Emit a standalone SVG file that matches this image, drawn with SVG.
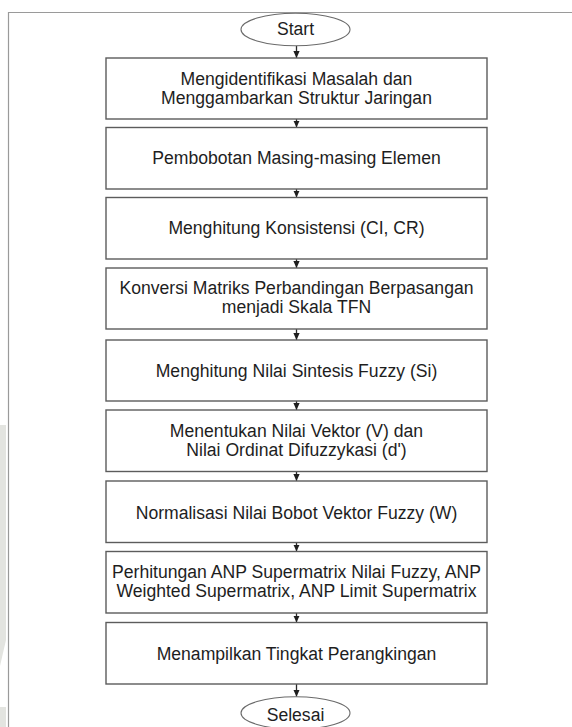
<svg xmlns="http://www.w3.org/2000/svg" width="572" height="727" viewBox="0 0 572 727">
<style>
.box{fill:#ffffff;stroke:#5c5c5c;stroke-width:1.4}
.term{fill:#ffffff;stroke:#6a6a6a;stroke-width:1.1}
.t{font-family:"Liberation Sans",Arial,sans-serif;font-size:17.6px;fill:#1e1e1e;text-anchor:middle}
.conn{stroke:#2a2a2a;stroke-width:1.3;fill:none}
.frame{stroke:#9a9a9a;stroke-width:1.2;fill:none}
.wm{fill:#e3e4e0}
</style>
<defs>
<marker id="ah" viewBox="0 0 10 10" refX="10" refY="5" markerWidth="7" markerHeight="7" markerUnits="userSpaceOnUse" orient="auto">
<path d="M0,0.5 L10,5 L0,9.5 z" fill="#1e1e1e"/>
</marker>
</defs>
<rect x="0" y="0" width="572" height="727" fill="#ffffff"/>
<g id="watermark">
<polygon class="wm" points="0,425 6,425 6,640 0,666"/>
<rect class="wm" x="0" y="707" width="6" height="20"/>
</g>
<path class="frame" d="M8.5,727 L8.5,12.5 L572,12.5"/>
<g id="connectors">
<line class="conn" x1="296.5" y1="45.7" x2="296.5" y2="58" marker-end="url(#ah)"/>
<line class="conn" x1="296.5" y1="119" x2="296.5" y2="127.5" marker-end="url(#ah)"/>
<line class="conn" x1="296.5" y1="189" x2="296.5" y2="197.5" marker-end="url(#ah)"/>
<line class="conn" x1="296.5" y1="259" x2="296.5" y2="268" marker-end="url(#ah)"/>
<line class="conn" x1="296.5" y1="329" x2="296.5" y2="340" marker-end="url(#ah)"/>
<line class="conn" x1="296.5" y1="401" x2="296.5" y2="410" marker-end="url(#ah)"/>
<line class="conn" x1="296.5" y1="471.5" x2="296.5" y2="481" marker-end="url(#ah)"/>
<line class="conn" x1="296.5" y1="542.5" x2="296.5" y2="551.5" marker-end="url(#ah)"/>
<line class="conn" x1="296.5" y1="613" x2="296.5" y2="622.5" marker-end="url(#ah)"/>
<line class="conn" x1="296.5" y1="684" x2="296.5" y2="696.7" marker-end="url(#ah)"/>
</g>
<g id="start">
<ellipse class="term" cx="295.5" cy="29.5" rx="54.5" ry="16.2"/>
<text class="t" x="295.5" y="35.3">Start</text>
</g>
<g id="n1">
<rect class="box" x="106" y="58" width="381" height="61"/>
<text class="t" x="296.5" y="84.5">Mengidentifikasi Masalah dan</text>
<text class="t" x="296.5" y="103.5">Menggambarkan Struktur Jaringan</text>
</g>
<g id="n2">
<rect class="box" x="106" y="127.5" width="381" height="61.5"/>
<text class="t" x="296.5" y="164.3">Pembobotan Masing-masing Elemen</text>
</g>
<g id="n3">
<rect class="box" x="106" y="197.5" width="381" height="61.5"/>
<text class="t" x="296.5" y="234.3">Menghitung Konsistensi (CI, CR)</text>
</g>
<g id="n4">
<rect class="box" x="106" y="268" width="381" height="61"/>
<text class="t" x="296.5" y="294.3">Konversi Matriks Perbandingan Berpasangan</text>
<text class="t" x="296.5" y="312.5">menjadi Skala TFN</text>
</g>
<g id="n5">
<rect class="box" x="106" y="340" width="381" height="61"/>
<text class="t" x="296.5" y="377">Menghitung Nilai Sintesis Fuzzy (Si)</text>
</g>
<g id="n6">
<rect class="box" x="106" y="410" width="381" height="61.5"/>
<text class="t" x="296.5" y="436.7">Menentukan Nilai Vektor (V) dan</text>
<text class="t" x="296.5" y="456">Nilai Ordinat Difuzzykasi (d')</text>
</g>
<g id="n7">
<rect class="box" x="106" y="481" width="381" height="61.5"/>
<text class="t" x="296.5" y="519">Normalisasi Nilai Bobot Vektor Fuzzy (W)</text>
</g>
<g id="n8">
<rect class="box" x="106" y="551.5" width="381" height="61.5"/>
<text class="t" x="296.5" y="578">Perhitungan ANP Supermatrix Nilai Fuzzy, ANP</text>
<text class="t" x="296.5" y="596.5">Weighted Supermatrix, ANP Limit Supermatrix</text>
</g>
<g id="n9">
<rect class="box" x="106" y="622.5" width="381" height="61.5"/>
<text class="t" x="296.5" y="659.5">Menampilkan Tingkat Perangkingan</text>
</g>
<g id="end">
<ellipse class="term" cx="295.5" cy="713" rx="54.5" ry="16.2"/>
<text class="t" x="295.5" y="720.5">Selesai</text>
</g>
</svg>
